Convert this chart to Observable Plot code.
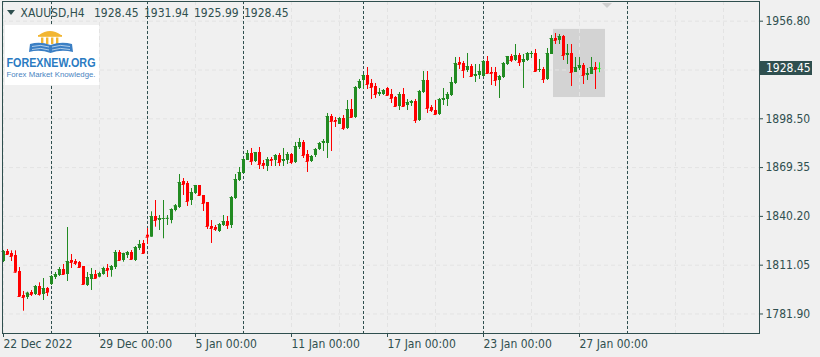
<!DOCTYPE html>
<html><head><meta charset="utf-8">
<script src="https://cdn.jsdelivr.net/npm/d3@7"></script>
<script src="https://cdn.jsdelivr.net/npm/@observablehq/plot@0.6"></script>
<style>
html,body{margin:0;padding:0;background:#f0f0f0;}
#wrap{position:relative;width:820px;height:357px;overflow:hidden;}
#price{position:absolute;left:760px;width:52px;height:14px;background:#2f4f4f;color:#ffffff;
  font-family:'DejaVu Sans Condensed','DejaVu Sans',sans-serif;font-stretch:condensed;font-size:12px;line-height:14px;
  box-sizing:border-box;padding-left:6px;white-space:nowrap;}
</style></head><body><div id="wrap"></div>
<script>
// ---- data (H4 bars, index 0 = 22 Dec 2022 00:00) ----
const opens=[1813.25,1819.23,1818.03,1816.83,1807.27,1792.94,1791.75,1794.73,1793.54,1798.32,1793.54,1797.12,1799.51,1803.69,1804.89,1808.47,1805.48,1813.85,1813.25,1812.65,1810.26,1798.91,1802.50,1805.48,1803.87,1805.48,1809.07,1807.87,1809.66,1818.63,1813.85,1816.83,1818.63,1813.85,1821.02,1824.02,1828.96,1827.77,1840.13,1837.74,1838.52,1838.70,1837.74,1843.71,1845.51,1861.04,1859.85,1849.69,1853.87,1858.65,1852.68,1848.49,1834.16,1833.56,1831.17,1834.76,1837.14,1834.76,1850.88,1861.64,1865.82,1873.59,1877.77,1872.99,1878.37,1871.80,1870.00,1874.18,1873.59,1876.57,1872.99,1873.59,1877.17,1872.39,1881.35,1884.34,1877.17,1872.99,1876.57,1880.16,1883.74,1883.74,1899.88,1897.49,1895.10,1898.68,1892.70,1904.06,1899.28,1916.60,1921.38,1924.37,1919.59,1917.80,1913.02,1913.02,1916.60,1913.02,1911.23,1905.85,1913.02,1906.45,1907.64,1908.84,1897.49,1914.21,1921.38,1905.25,1903.46,1901.07,1909.43,1910.03,1912.42,1919.59,1932.13,1931.54,1927.35,1929.74,1923.77,1924.37,1923.77,1932.73,1926.16,1926.16,1921.38,1923.17,1930.94,1935.72,1933.33,1936.31,1932.13,1933.33,1936.91,1937.51,1927.35,1927.95,1921.98,1936.91,1946.47,1945.27,1947.66,1936.31,1937.51,1926.16,1928.55,1930.34,1924.37,1924.96,1929.15,1928.45];
const highs=[1819.82,1820.42,1819.64,1819.64,1809.66,1795.33,1794.91,1795.93,1798.91,1800.52,1803.09,1797.72,1804.89,1806.68,1809.66,1811.46,1833.56,1817.43,1814.44,1813.25,1810.26,1806.68,1809.07,1807.87,1806.86,1809.84,1811.46,1810.86,1819.82,1819.82,1818.21,1819.23,1819.82,1822.22,1825.81,1825.81,1832.96,1842.94,1849.69,1840.73,1849.69,1840.73,1844.73,1847.30,1865.22,1862.83,1861.04,1856.86,1858.65,1858.65,1852.68,1848.49,1837.74,1834.76,1835.95,1840.73,1840.13,1852.08,1865.22,1869.41,1874.78,1879.56,1880.76,1878.37,1881.35,1873.59,1875.38,1875.38,1877.17,1877.77,1880.76,1878.37,1877.77,1884.34,1886.73,1885.53,1879.56,1876.57,1880.76,1884.34,1886.13,1901.67,1901.07,1899.28,1899.28,1900.47,1909.43,1910.03,1917.80,1921.98,1924.96,1929.15,1921.98,1919.59,1916.60,1916.00,1917.20,1916.00,1911.82,1914.21,1916.60,1910.03,1909.43,1910.03,1915.41,1926.75,1926.75,1906.45,1909.43,1910.63,1916.60,1914.21,1923.17,1935.12,1935.12,1932.73,1937.51,1930.94,1930.94,1930.94,1933.33,1935.72,1929.15,1929.15,1924.37,1932.13,1935.72,1936.91,1942.88,1937.51,1936.91,1938.11,1938.70,1939.90,1933.93,1929.15,1940.50,1948.26,1949.46,1948.86,1948.26,1942.88,1942.88,1935.12,1935.12,1931.54,1928.55,1935.12,1932.13,1931.94];
const lows=[1812.65,1816.83,1813.25,1806.26,1791.92,1783.56,1790.55,1792.34,1792.94,1792.52,1789.95,1792.34,1798.91,1802.50,1804.29,1804.89,1801.30,1809.07,1810.86,1809.07,1798.91,1798.32,1795.93,1802.50,1803.51,1805.06,1803.69,1803.87,1808.47,1813.25,1812.83,1815.04,1813.85,1813.25,1819.82,1818.03,1823.42,1827.77,1833.74,1831.77,1826.81,1834.76,1835.77,1842.94,1844.91,1852.68,1846.11,1846.70,1853.27,1852.08,1843.12,1832.37,1824.02,1831.17,1830.57,1834.16,1832.37,1832.96,1850.29,1861.04,1865.82,1873.59,1870.60,1872.39,1868.21,1868.21,1867.02,1870.00,1870.00,1870.00,1870.00,1871.20,1871.20,1871.80,1880.16,1874.78,1866.42,1872.39,1875.38,1879.56,1878.96,1874.78,1878.96,1893.30,1895.10,1891.51,1892.11,1898.68,1898.68,1916.00,1916.00,1916.00,1910.03,1910.63,1911.82,1912.42,1912.42,1907.64,1905.25,1903.46,1905.25,1903.46,1905.85,1895.69,1896.89,1913.61,1901.67,1902.27,1900.47,1900.47,1906.45,1905.85,1911.82,1918.99,1927.95,1922.57,1926.16,1923.17,1920.18,1921.98,1923.17,1924.96,1918.39,1917.80,1910.63,1922.57,1930.34,1932.13,1932.73,1929.74,1916.60,1932.73,1934.52,1926.16,1926.16,1919.59,1921.38,1936.91,1942.88,1942.88,1933.33,1930.94,1917.80,1926.16,1927.35,1918.99,1921.38,1924.96,1916.00,1925.99];
const closes=[1819.23,1817.43,1816.24,1806.86,1792.34,1791.75,1794.31,1793.54,1798.32,1793.54,1797.12,1794.73,1804.29,1805.48,1808.47,1805.48,1813.25,1812.65,1812.05,1809.66,1799.51,1803.69,1805.48,1803.09,1806.08,1809.07,1807.87,1810.26,1818.63,1813.85,1818.03,1818.63,1814.44,1821.62,1823.42,1818.03,1827.77,1840.13,1837.74,1838.94,1838.94,1839.00,1844.31,1846.50,1860.44,1859.25,1849.09,1854.47,1858.65,1852.68,1847.90,1834.16,1832.96,1832.37,1835.35,1837.14,1834.76,1851.48,1862.24,1866.42,1874.18,1877.77,1872.99,1878.37,1871.20,1870.60,1874.18,1873.59,1876.57,1872.39,1874.18,1877.17,1872.39,1881.95,1884.34,1876.57,1872.99,1875.98,1880.16,1883.74,1884.94,1899.88,1896.89,1896.89,1898.68,1892.70,1904.06,1899.28,1917.20,1920.78,1924.37,1918.99,1917.20,1913.02,1914.21,1915.41,1912.42,1910.63,1905.85,1913.02,1905.85,1908.24,1908.84,1897.49,1914.81,1921.38,1904.66,1903.46,1901.07,1910.03,1910.63,1913.02,1920.18,1931.54,1930.94,1927.35,1929.74,1923.77,1924.96,1926.75,1932.73,1925.56,1925.56,1921.38,1923.77,1931.54,1935.72,1933.33,1936.31,1932.13,1933.93,1937.51,1937.51,1926.75,1927.95,1921.98,1937.51,1946.47,1945.27,1947.66,1936.31,1937.51,1926.16,1929.15,1930.34,1924.37,1925.56,1929.15,1927.95,1928.45];

const xTickIdx=[0,24,48,72,96,120,144];
const xTickLabels=["22 Dec 2022","29 Dec 00:00","5 Jan 00:00","11 Jan 00:00","17 Jan 00:00","23 Jan 00:00","27 Jan 00:00"];
const yTicks=[1956.80,1927.65,1898.50,1869.35,1840.20,1811.05,1781.90];
const gridIdx=[0,12,24,36,48,60,72,84,96,108,120,132,144,156,168,180];
const separatorIdx=[12,36,60,90,120,156];
const highlightBox=[{from:137.5,to:150.5,low:1911.2,high:1951.9}];
const symbol="XAUUSD,H4";
const lastOHLC=[1928.45,1931.94,1925.99,1928.45];

// ---- chart ----
const bars=opens.map((o,i)=>({i,open:o,high:highs[i],low:lows[i],close:closes[i]}));
const UP="#228b22",DN="#ff0000",DOJI="#00ff00",INK="#2f4f4f";
const col=d=>d.close>d.open?UP:(d.close<d.open?DN:DOJI);
const FONT="'DejaVu Sans Condensed','DejaVu Sans',sans-serif";
const last=lastOHLC[3];
// the current-price label covers the tick label nearest to it
const yLabelTicks=yTicks.filter(t=>Math.abs(t-last)>5);

const chart=Plot.plot({
  width:820,height:357,
  marginLeft:2,marginRight:61,marginTop:1,marginBottom:24,
  style:{background:"#f0f0f0",fontFamily:FONT,fontSize:"12px",color:INK,fontStretch:"condensed"},
  x:{type:"linear",domain:[-0.25,189],axis:null},
  y:{type:"linear",domain:[1770.24,1968.57],axis:null},
  marks:[
    Plot.rect(highlightBox,{x1:"from",x2:"to",y1:"low",y2:"high",fill:"#d3d3d3"}),
    Plot.ruleY(yTicks,{stroke:"#e3e3e3",strokeDasharray:"4,3"}),
    Plot.ruleX(gridIdx,{stroke:"#e3e3e3",strokeDasharray:"4,3"}),
    Plot.ruleX(separatorIdx,{stroke:INK,strokeDasharray:"3,2"}),
    Plot.ruleX(bars,{x:"i",y1:"low",y2:"high",stroke:col,strokeWidth:1}),
    Plot.ruleX(bars,{x:"i",y1:"open",y2:"close",stroke:col,strokeWidth:3}),
    Plot.ruleY(bars,{x1:d=>d.i-0.375,x2:d=>d.i+0.375,y:"close",stroke:col}),
    Plot.frame({stroke:INK}),
    Plot.axisY(yLabelTicks,{anchor:"right",tickSize:3,tickPadding:3,textAnchor:"start",tickFormat:d=>d.toFixed(2),color:INK,fontSize:12}),
    Plot.axisX(xTickIdx,{anchor:"bottom",tickSize:4,tickPadding:2,textAnchor:"start",tickFormat:d=>xTickLabels[xTickIdx.indexOf(d)],color:INK,fontSize:12})
  ]
});
const wrap=document.getElementById("wrap");
wrap.appendChild(chart);

// ---- overlays: current price label, shift marker, header, logo ----
const svg=d3.select(chart);
const ys=chart.scale("y"), xs=chart.scale("x");
const py=ys.apply(last);
const lab=document.createElement("div");
lab.id="price";
lab.style.top=(Math.round(py)-7)+"px";
lab.textContent=last.toFixed(2);
wrap.appendChild(lab);

const sx=xs.apply(closes.length+1);
svg.append("path").attr("d",`M${sx-5},3 L${sx+5},3 L${sx},8 Z`).attr("fill","#cfcfcf");

const hdr=svg.append("g").attr("text-anchor","start").style("font-family",FONT).style("font-size","12px").attr("fill",INK);
hdr.append("path").attr("d","M7,10 L15,10 L11,15 Z").attr("fill",INK);
hdr.append("text").attr("x",20.5).attr("y",17).attr("text-anchor","start").text(symbol);
const hx=[94,144,194,244];
lastOHLC.forEach((v,k)=>hdr.append("text").attr("x",hx[k]).attr("y",17).attr("text-anchor","start").text(v.toFixed(2)));

const logo=svg.append("g").attr("transform","translate(5,25)").attr("text-anchor","start");
logo.append("rect").attr("width",94).attr("height",60).attr("fill","#ffffff");
const gold="#f2b632", blue="#3b7fc4";
logo.append("path").attr("d","M34,10 Q45,2 56,10 Z").attr("fill",gold);
logo.append("rect").attr("x",33).attr("y",10).attr("width",24).attr("height",1.8).attr("fill",gold);
[36,41,46,51].forEach(cx=>logo.append("rect").attr("x",cx).attr("y",12.5).attr("width",2.4).attr("height",6.5).attr("fill",gold));
logo.append("path").attr("d","M25,19 Q35,16 45.5,20 Q56,16 67,19 L68,27 Q56,24 45.5,28 Q35,24 24,27 Z").attr("fill",blue);
logo.append("path").attr("d","M27,21.5 Q36,19 44,22 M27,24.5 Q36,22 44,25 M47,22 Q55,19 65,21.5 M47,25 Q55,22 65,24.5").attr("stroke","#ffffff").attr("stroke-width",0.6).attr("fill","none");
logo.append("text").attr("x",1.5).attr("y",42).attr("text-anchor","start").attr("textLength",89).attr("lengthAdjust","spacingAndGlyphs")
  .style("font-family","'Liberation Sans',Arial,sans-serif").style("font-weight","bold").style("font-size","12.5px").attr("fill","#2a7bc2").text("FOREXNEW.ORG");
logo.append("text").attr("x",1.5).attr("y",51.5).attr("text-anchor","start").attr("textLength",89).attr("lengthAdjust","spacingAndGlyphs")
  .style("font-family","'Liberation Sans',Arial,sans-serif").style("font-size","6.5px").attr("fill","#4a84bf").text("Forex Market Knowledge.");
</script></body></html>
